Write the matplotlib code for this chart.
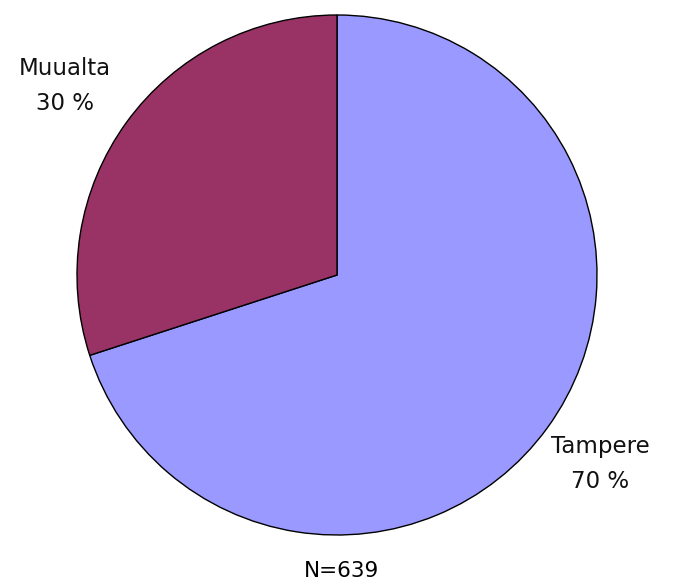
import matplotlib
matplotlib.use("Agg")
import matplotlib.pyplot as plt

# data
labels = ["Tampere", "Muualta"]
values = [70, 30]
colors = ["#9999FF", "#993366"]
n_total = 639

W, H = 674, 584

fig = plt.figure(figsize=(W / 100, H / 100), dpi=100)
ax = fig.add_axes([0, 0, 1, 1])

ax.pie(values, colors=colors, startangle=90, counterclock=False,
       center=(337, 309), radius=260,
       wedgeprops={"edgecolor": "black", "linewidth": 1})

# pie changes the limits, so set them afterwards
ax.set_xlim(0, W)
ax.set_ylim(0, H)
ax.set_aspect("equal")
ax.axis("off")

label_font = {"family": "DejaVu Sans", "size": 16.5, "color": "#111111"}
ax.text(65, 498, "%s\n%d %%" % (labels[1], values[1]), ha="center", va="center",
        linespacing=1.65, **label_font)
ax.text(600, 120, "%s\n%d %%" % (labels[0], values[0]), ha="center", va="center",
        linespacing=1.65, **label_font)

ax.text(342, 13, "N=%d" % n_total, ha="center", va="center",
        family="DejaVu Sans", size=15.5, color="black")

fig.savefig("out.png", dpi=100)
